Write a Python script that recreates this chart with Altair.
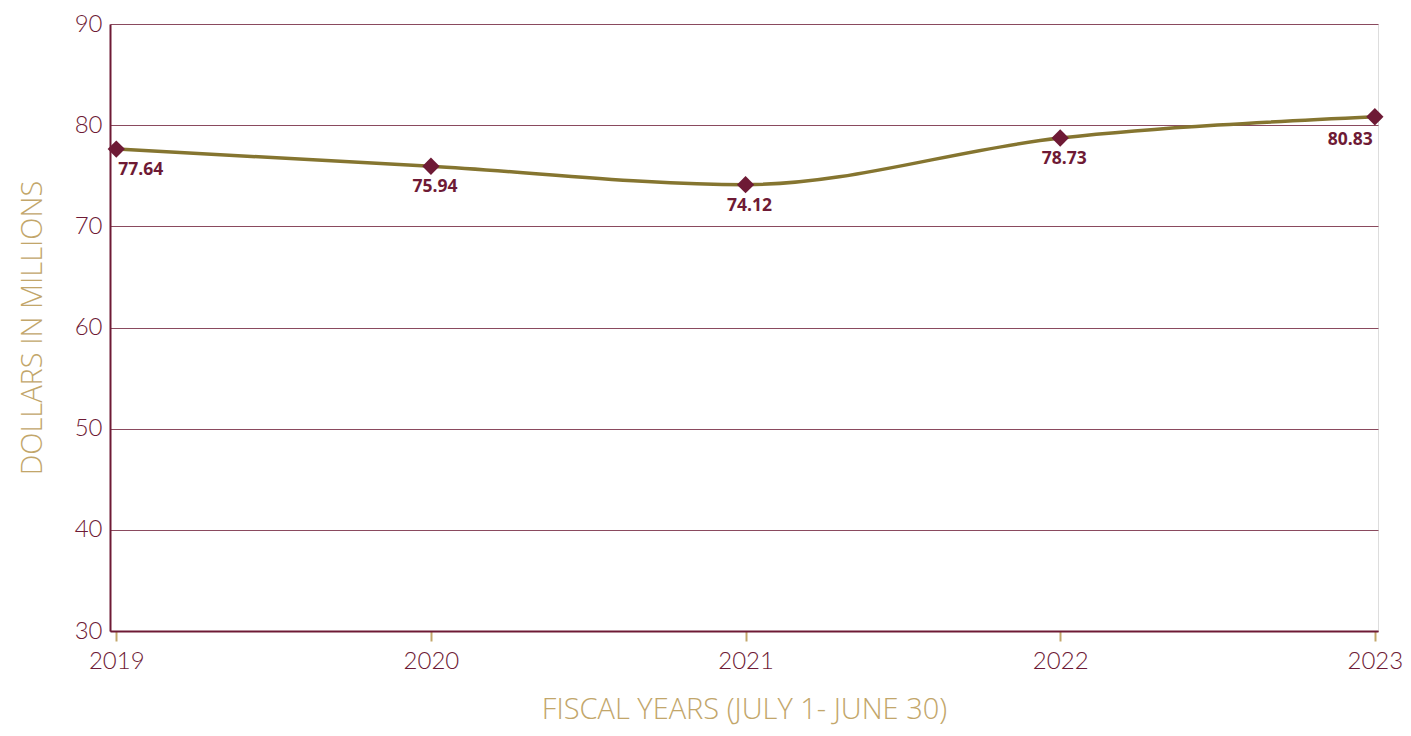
import altair as alt
import pandas as pd

years = [2019, 2020, 2021, 2022, 2023]
values = [77.64, 75.94, 74.12, 78.73, 80.83]
labels = ["77.64", "75.94", "74.12", "78.73", "80.83"]
y_ticks = [30, 40, 50, 60, 70, 80, 90]

df = pd.DataFrame({"year": years, "value": values, "label": labels})

MAROON = "#6e1a35"
OLIVE = "#857530"
GOLD = "#c2a66a"
FONT = "Lato"
TFONT = "Open Sans"

x = alt.X("year:Q",
          scale=alt.Scale(domain=[2018.98, 2023.01], nice=False, zero=False),
          axis=alt.Axis(values=years, format="d", title="FISCAL YEARS (JULY 1- JUNE 30)",
                        grid=False, tickColor=GOLD, tickSize=10, tickWidth=2,
                        domainColor=MAROON, domainWidth=2,
                        labelColor=MAROON, labelFontSize=24, labelFont=FONT, labelFontWeight=300,
                        labelPadding=8,
                        titleColor=GOLD, titleFontSize=29, titleFont=TFONT, titleFontWeight=300,
                        titlePadding=22))
y = alt.Y("value:Q",
          scale=alt.Scale(domain=[30, 90], nice=False, zero=False),
          axis=alt.Axis(values=y_ticks, title="DOLLARS IN MILLIONS",
                        grid=True, gridColor="#8a4a5e", gridWidth=1,
                        ticks=False, domainColor=MAROON, domainWidth=2,
                        labelColor=MAROON, labelFontSize=24, labelFont=FONT, labelFontWeight=300,
                        labelPadding=8,
                        titleColor=GOLD, titleFontSize=29, titleFont=TFONT, titleFontWeight=300,
                        titlePadding=27))

base = alt.Chart(df)

line = base.mark_line(color=OLIVE, strokeWidth=3.5, interpolate="monotone").encode(x=x, y=y)
pts = base.mark_point(shape="diamond", filled=True, color=MAROON, opacity=1, size=300).encode(x=x, y=y)

txt_kw = dict(color=MAROON, fontSize=17.5, fontWeight="bold", font="Open Sans", baseline="middle", dy=21)
t_first = base.transform_filter("datum.year == 2019").mark_text(align="left", dx=2, **txt_kw).encode(
    x=x, y=y, text="label:N")
t_mid = base.transform_filter("datum.year > 2019 && datum.year < 2023").mark_text(align="center", dx=4, **txt_kw).encode(
    x=x, y=y, text="label:N")
t_last = base.transform_filter("datum.year == 2023").mark_text(align="right", dx=-2, **{**txt_kw, "dy": 23}).encode(
    x=x, y=y, text="label:N")

chart = alt.layer(line, pts, t_first, t_mid, t_last).properties(
    width=1268, height=607,
    autosize=alt.AutoSizeParams(type="none"),
    padding={"left": 102, "top": 16, "right": 25, "bottom": 104},
).configure_view(stroke=MAROON, strokeWidth=2).configure(background="white")

chart.save("out.html", embed_options={"renderer": "svg", "actions": False})
